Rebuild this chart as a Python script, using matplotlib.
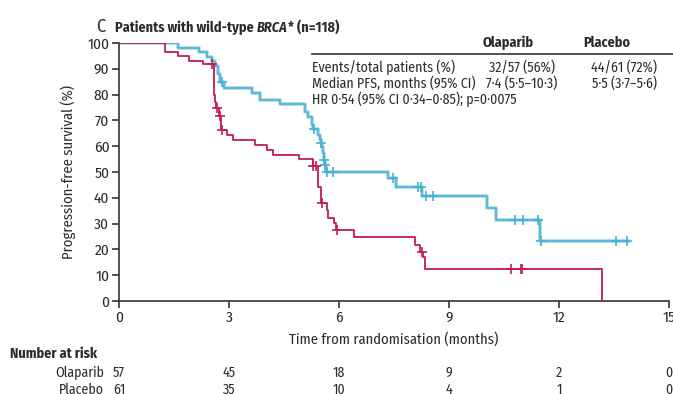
import numpy as np
import matplotlib
matplotlib.use('Agg')
import matplotlib.pyplot as plt
from matplotlib import font_manager

# --- data ---------------------------------------------------------------
# Olaparib KM curve (step, post)
ola_t = [0, 1.61, 2.18, 2.41, 2.53, 2.62, 2.70, 2.76, 2.86, 3.62, 3.85, 4.39,
         5.07, 5.16, 5.25, 5.30, 5.42, 5.48, 5.50, 5.54, 5.56, 5.58, 5.61, 5.64,
         7.34, 7.55, 8.27, 10.03, 10.27, 11.48, 13.89]
ola_s = [100, 98.2, 96.5, 94.7, 93.0, 91.2, 88.0, 85.0, 82.4, 80.7, 77.9, 76.2,
         73.4, 71.4, 68.2, 66.7, 64.3, 62.4, 61.4, 59.7, 57.2, 54.6, 52.7, 50.1,
         47.5, 44.3, 40.7, 35.9, 31.4, 23.4, 23.4]
ola_cens = [2.80, 5.33, 5.52, 5.59, 5.62, 5.68, 5.84, 7.48, 8.16, 8.23, 8.37,
            8.57, 10.80, 11.03, 11.42, 11.50, 13.55, 13.85]

# Placebo KM curve
pla_t = [0, 1.25, 1.60, 1.92, 2.30, 2.58, 2.60, 2.62, 2.65, 2.72, 2.78, 2.94,
         3.10, 3.71, 4.03, 4.21, 4.92, 5.28, 5.44, 5.50, 5.66, 5.71, 5.86, 5.92,
         6.41, 8.07, 8.22, 8.30, 8.35, 13.16, 13.16]
pla_s = [100, 96.6, 95.0, 93.1, 91.7, 86.0, 80.0, 77.0, 74.7, 71.7, 66.3, 64.3,
         62.4, 60.5, 58.5, 56.6, 55.0, 52.3, 44.3, 37.9, 35.3, 32.3, 30.1, 27.5,
         24.7, 21.7, 19.1, 17.0, 12.4, 0, 0]
pla_cens = [2.53, 2.67, 2.75, 2.82, 5.30, 5.36, 5.53, 5.94, 8.25, 10.68,
            10.95, 10.98]

x_ticks = [0, 3, 6, 9, 12, 15]
risk_ola = [57, 45, 18, 9, 2, 0]
risk_pla = [61, 35, 10, 4, 1, 0]

table_rows = ["Events/total patients (%)",
              "Median PFS, months (95% CI)",
              "HR 0\u00b754 (95% CI 0\u00b734\u20130\u00b785); p=0\u00b70075"]
table_ola = ["32/57 (56%)", "7\u00b74 (5\u00b75\u201310\u00b73)"]
table_pla = ["44/61 (72%)", "5\u00b75 (3\u00b77\u20135\u00b76)"]

# --- style ----------------------------------------------------------------
names = {f.name for f in font_manager.fontManager.ttflist}
fam = next((n for n in ['Fira Sans Condensed', 'Roboto Condensed', 'PT Sans Narrow',
                        'Liberation Sans'] if n in names), 'DejaVu Sans')
plt.rcParams['font.family'] = [fam, 'DejaVu Sans']
TXT = '#2b2b2b'
BLUE = '#43B1D5'
BLUE_HALO = '#B3DCEA'
RED = '#C21E4E'

W, H = 673, 394
fig = plt.figure(figsize=(W / 100, H / 100), dpi=100)
rend = fig.canvas.get_renderer()


def fit(s, px, **kw):
    # font size that makes string s about px pixels wide
    t = fig.text(0, 0, s, fontsize=10, **kw)
    w = t.get_window_extent(rend).width
    t.remove()
    return 10 * px / w


FS = fit(table_rows[0], 143)
FS_B = fit("Number at risk", 87, fontweight='bold')
FS_T = fit("Patients with wild-type", 139, fontweight='bold')
FS_TK = fit("100", 22)
FS_L = fit("Time from randomisation (months)", 209)


def fx(px):
    return px / W


def fy(py):
    return 1 - py / H


ax = fig.add_axes([fx(119), fy(301), fx(669) - fx(119), fy(43) - fy(301)])


def level(t_arr, s_arr, t):
    i = np.searchsorted(t_arr, t, side='right') - 1
    return s_arr[i]


ax.step(ola_t, ola_s, where='post', color=BLUE_HALO, lw=2.8, zorder=2)
ax.step(ola_t, ola_s, where='post', color=BLUE, lw=1.1, zorder=3)
ax.plot(ola_cens, [level(ola_t, ola_s, t) for t in ola_cens], ls='none',
        marker='+', ms=7, mew=1.2, color=BLUE, zorder=4)

ax.step(pla_t, pla_s, where='post', color=RED, lw=1.3, zorder=3)
ax.plot(pla_cens, [level(pla_t, pla_s, t) for t in pla_cens], ls='none',
        marker='+', ms=7, mew=1.2, color=RED, zorder=4)

ax.set_xlim(0, 15)
ax.set_ylim(0, 100)
ax.set_xticks(x_ticks)
ax.set_yticks(range(0, 101, 10))
for s in ['top', 'right']:
    ax.spines[s].set_visible(False)
for s in ['left', 'bottom']:
    ax.spines[s].set_color('#333333')
    ax.spines[s].set_linewidth(1.2)
ax.tick_params(direction='out', length=5, width=1.2, color='#333333',
               labelsize=FS_TK, labelcolor=TXT, pad=2)
ax.set_xlabel("Time from randomisation (months)", fontsize=FS_L, color=TXT, labelpad=5)
ax.set_ylabel("Progression-free survival (%)", fontsize=FS_L, color=TXT, labelpad=8)

# title
fig.text(fx(96), fy(32), "C", fontsize=FS_T * 1.3, color=TXT, va='baseline')
t1 = fig.text(fx(115), fy(32), "Patients with wild-type ", fontsize=FS_T,
              fontweight='bold', color=TXT, va='baseline')
t2 = ax.annotate("BRCA", xy=(1, 0), xycoords=t1, va='bottom', ha='left',
                 fontsize=FS_T, fontweight='bold', style='italic', color=TXT)
ax.annotate("* (n=118)", xy=(1, 0), xycoords=t2, va='bottom', ha='left',
            fontsize=FS_T, fontweight='bold', color=TXT)

# table
fig.text(fx(483), fy(43), "Olaparib", fontsize=FS_B, fontweight='bold', color=TXT, va='center')
fig.text(fx(583), fy(43), "Placebo", fontsize=FS_B, fontweight='bold', color=TXT, va='center')
fig.add_artist(plt.Line2D([fx(312), fx(673)], [fy(54), fy(54)], color='#333333', lw=1.2))
row_y = [67, 83, 99]
for y, r in zip(row_y, table_rows):
    fig.text(fx(312), fy(y), r, fontsize=FS, color=TXT, va='center')
for y, a, b in zip(row_y, table_ola, table_pla):
    fig.text(fx(522), fy(y), a, fontsize=FS, color=TXT, va='center', ha='center')
    fig.text(fx(624), fy(y), b, fontsize=FS, color=TXT, va='center', ha='center')

# number at risk
fig.text(fx(10), fy(354), "Number at risk", fontsize=FS_B, fontweight='bold', color=TXT, va='center')
for y, lab, vals in [(373, "Olaparib", risk_ola), (390, "Placebo", risk_pla)]:
    fig.text(fx(104), fy(y), lab, fontsize=FS, color=TXT, va='center', ha='right')
    for xt, v in zip(x_ticks, vals):
        xd = ax.transData.transform((xt, 0))[0]
        fig.text(xd / W, fy(y), str(v), fontsize=FS, color=TXT, va='center', ha='center')

fig.savefig('out.png', dpi=100)
